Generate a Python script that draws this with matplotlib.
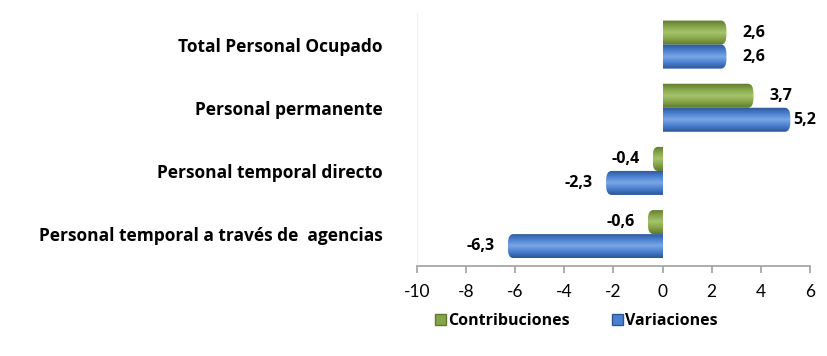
import numpy as np
import matplotlib.pyplot as plt
from matplotlib.patches import Patch, FancyBboxPatch
from matplotlib.colors import LinearSegmentedColormap

plt.rcParams['font.family'] = ['Lato', 'DejaVu Sans']
negrita = ['Open Sans', 'DejaVu Sans']

# Data
categorias = ['Total Personal Ocupado', 'Personal permanente',
              'Personal temporal directo', 'Personal temporal a través de  agencias']
contribuciones = [2.6, 3.7, -0.4, -0.6]
variaciones = [2.6, 5.2, -2.3, -6.3]
etiquetas_contrib = ['2,6', '3,7', '-0,4', '-0,6']
etiquetas_var = ['2,6', '5,2', '-2,3', '-6,3']

verde = ['#a6c46a', '#86a44a', '#5f7a2c']
azul = ['#7aa6e6', '#4a80cf', '#2c5596']

fig = plt.figure(figsize=(8.28, 3.56), dpi=100)
ax = fig.add_axes([0.5036, 0.2537, 0.4746, 0.7098])

n = len(categorias)
y = np.arange(n)[::-1]
alto = 0.38
x_min, x_max = -10, 6


def barra_cilindro(ax, x0, ancho, yc, h, colores):
    # bar with vertical shading and a rounded end
    left = min(x0, x0 + ancho)
    w = abs(ancho)
    cmap = LinearSegmentedColormap.from_list('c', [colores[2], colores[1], colores[0], colores[1], colores[2]])
    grad = np.linspace(0, 1, 64).reshape(-1, 1)
    img = ax.imshow(grad, cmap=cmap, aspect='auto', origin='lower',
                    extent=(left, left + w, yc - h / 2, yc + h / 2), zorder=2)
    # clip to a box rounded only at the far end
    r = min(0.22, w / 2)
    x_clip = left - 0.5 if ancho >= 0 else left
    clip = FancyBboxPatch((x_clip, yc - h / 2), w + 0.5, h,
                          boxstyle=f'round,pad=0,rounding_size={r}',
                          mutation_aspect=h / 0.55, transform=ax.transData,
                          facecolor='none', edgecolor='none')
    ax.add_patch(clip)
    img.set_clip_path(clip)


for i in range(n):
    barra_cilindro(ax, 0, contribuciones[i], y[i] + alto / 2, alto, verde)
    barra_cilindro(ax, 0, variaciones[i], y[i] - alto / 2, alto, azul)

# value labels
for i in range(n):
    for val, txt, yy in [(contribuciones[i], etiquetas_contrib[i], y[i] + alto / 2),
                         (variaciones[i], etiquetas_var[i], y[i] - alto / 2)]:
        if val >= 0:
            xt = val + 0.65 if val + 2.0 < x_max else val + 0.12
            ax.text(xt, yy, txt, ha='left', va='center', family=negrita,
                    fontsize=11.5, fontweight='bold', clip_on=False)
        else:
            ax.text(val - 0.55, yy, txt, ha='right', va='center', family=negrita,
                    fontsize=11.5, fontweight='bold')

ax.set_xlim(x_min, x_max)
ax.set_ylim(-0.5, n - 0.5)
ax.set_xticks(range(x_min, x_max + 1, 2))
ax.set_xticklabels([str(v) for v in range(x_min, x_max + 1, 2)], fontsize=12.5)
ax.set_yticks(y)
ax.set_yticklabels(categorias, fontsize=12.5, fontweight='bold', family=negrita)
ax.tick_params(axis='y', length=0, pad=25)
ax.tick_params(axis='x', direction='out', length=5, width=1.2, color='#a0a0a0', pad=8)

for s in ['top', 'right']:
    ax.spines[s].set_visible(False)
ax.spines['left'].set_color('#f0f0f0')
ax.spines['bottom'].set_color('#a0a0a0')
ax.spines['bottom'].set_linewidth(1.2)

handles = [Patch(facecolor=verde[1], edgecolor=verde[2], label='Contribuciones'),
           Patch(facecolor=azul[1], edgecolor=azul[2], label='Variaciones')]
fig.legend(handles=handles, loc='center', bbox_to_anchor=(0.696, 0.097), ncol=2,
           frameon=False, handlelength=0.7, handleheight=0.7, handletextpad=0.15,
           columnspacing=2.6, prop={'weight': 'bold', 'size': 11.5, 'family': negrita})

fig.savefig('out.png', dpi=100)
